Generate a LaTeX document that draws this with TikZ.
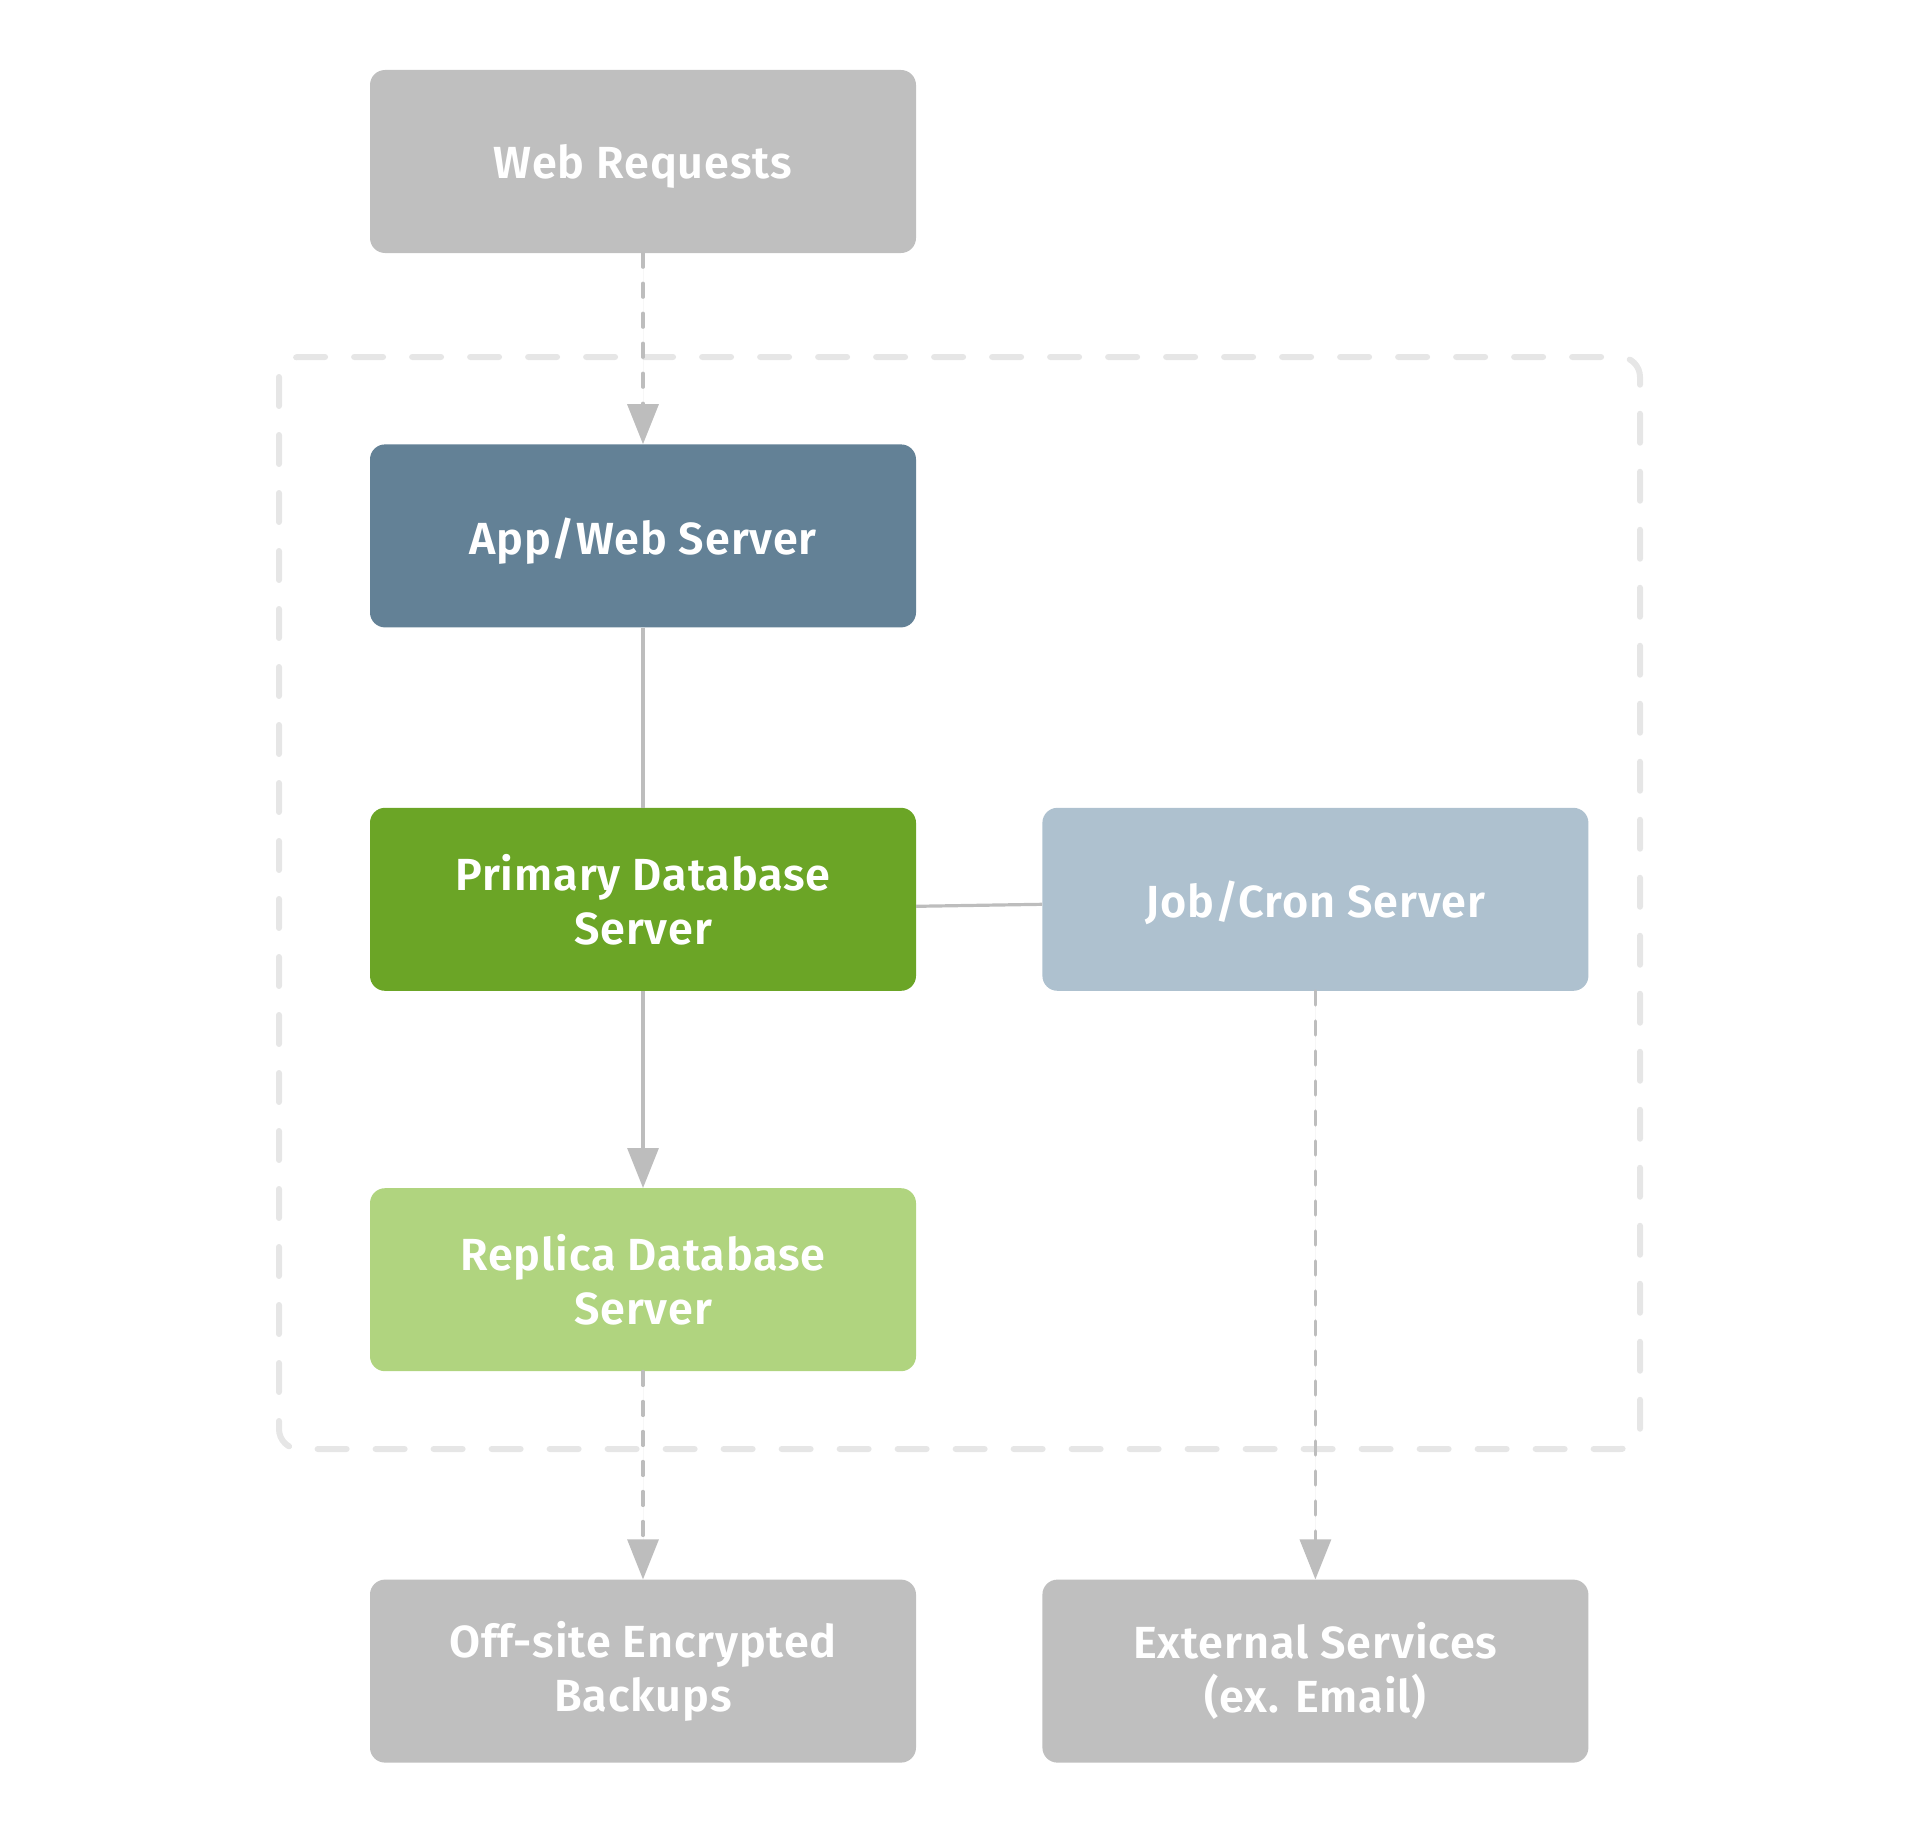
\documentclass[tikz,border=0pt]{standalone}
\usepackage{fontspec}
\setmainfont{Fira Sans}[BoldFont={Fira Sans SemiBold}, LetterSpace=2]
\usepackage{tikz}
\usetikzlibrary{positioning, arrows.meta}

\definecolor{boxgray}{HTML}{BFBFBF}
\definecolor{appblue}{HTML}{638196}
\definecolor{primgreen}{HTML}{6BA526}
\definecolor{jobblue}{HTML}{AEC1CF}
\definecolor{replgreen}{HTML}{B0D47F}
\definecolor{linegray}{HTML}{BDBDBD}
\definecolor{framegray}{HTML}{E6E6E6}

\tikzset{
    srvbox/.style={rectangle, rounded corners=15pt, minimum width=546pt, minimum height=183pt,
        inner sep=0pt, text=white, align=center, font=\fontsize{45}{54}\selectfont\bfseries},
    oneline/.style={text depth=0pt},
    link/.style={draw=linegray, line width=3.2pt},
    flow/.style={link, -{Triangle[width=31pt,length=40pt]}, fill=linegray},
    dashflow/.style={flow, line cap=round, dash pattern=on 14pt off 16pt},
}

\begin{document}
\begin{tikzpicture}[x=1pt, y=-1pt]
            \useasboundingbox (0,0) rectangle (1916,1833);
            % boxes
            \node[srvbox, oneline, fill=boxgray] (web) at (643,161.5) {Web Requests};
            \node[srvbox, oneline, fill=appblue, below=191pt of web] (app) {App/Web Server};
            \node[srvbox, fill=primgreen, below=180pt of app] (prim) {Primary Database\\Server};
            \node[srvbox, oneline, fill=jobblue, right=126pt of prim] (job) {Job/Cron Server};
            \node[srvbox, fill=replgreen, below=197pt of prim] (repl) {Replica Database\\Server};
            \node[srvbox, fill=boxgray, below=208pt of repl] (backup) {Off-site Encrypted\\Backups};
            \node[srvbox, fill=boxgray] (ext) at (job |- backup) {External Services\\(ex. Email)};
            % dashed frame
            \draw[framegray, line width=6pt, line cap=round, rounded corners=20pt,
                dash pattern=on 29pt off 29pt] (279,357) rectangle (1640,1449);
            % connectors
            \draw[dashflow] (web) -- (app);
            \draw[link] (app) -- (prim);
            \draw[link] ([yshift=-7pt]prim.east) -- ([yshift=-5pt]job.west);
            \draw[flow] (prim) -- (repl);
            \draw[dashflow] (repl) -- (backup);
            \draw[dashflow] (job) -- (ext);
        \end{tikzpicture}
\end{document}
